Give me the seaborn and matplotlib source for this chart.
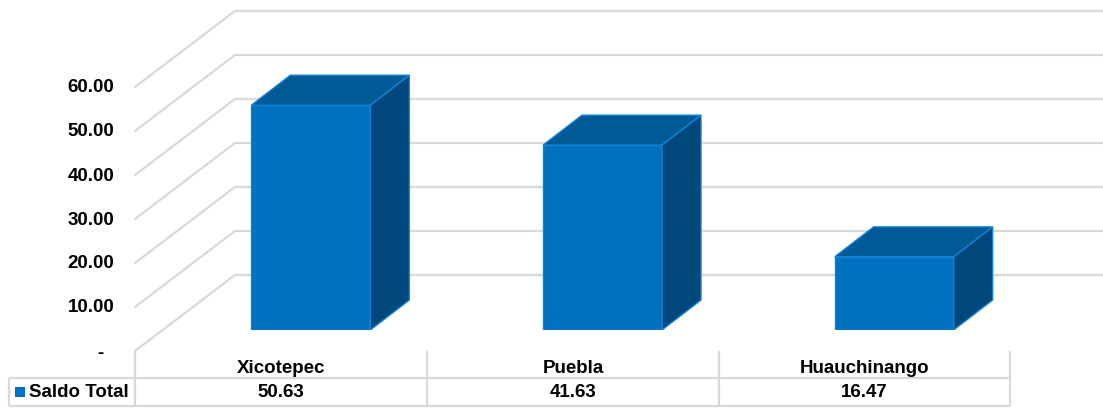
import matplotlib
matplotlib.use("Agg")
import matplotlib.pyplot as plt
from matplotlib.patches import Polygon, Rectangle
from matplotlib.transforms import ScaledTranslation
import seaborn as sns

# values
municipios = ["Xicotepec", "Puebla", "Huauchinango"]
saldo_total = [50.63, 41.63, 16.47]
saldo_labels = ["50.63", "41.63", "16.47"]
serie = "Saldo Total"
y_ticks = [0, 10, 20, 30, 40, 50, 60]
y_labels = ["-", "10.00", "20.00", "30.00", "40.00", "50.00", "60.00"]

W, H = 1103, 408
BLUE = "#0070C0"
TOP = "#005A96"
SIDE = "#00487C"
EDGE = "#1482D8"
GRID = "#D9D9D9"

sns.set_style("white")
plt.rcParams["font.family"] = ["Liberation Sans", "DejaVu Sans"]
plt.rcParams["font.weight"] = "bold"
plt.rcParams["font.size"] = 13.5


def px_axes(fig, left, top, right, bottom):
    return fig.add_axes([left / W, 1 - bottom / H, (right - left) / W, (bottom - top) / H])


fig = plt.figure(figsize=(W / 100, H / 100), dpi=100, facecolor="white")

# walls: x in pixels from the front left corner, y in chart units
ax_grid = px_axes(fig, 135, 87, 1010, 351)
ax_grid.set_xlim(0, 875)
ax_grid.set_ylim(0, 60)
depth_x = 100
depth_y = 76 / 4.4
for v in y_ticks:
    ax_grid.plot([0, depth_x, 875 + depth_x], [v, v + depth_y, v + depth_y],
                 color=GRID, lw=1.6, clip_on=False, solid_joinstyle="miter")
for s in ax_grid.spines.values():
    s.set_visible(False)
ax_grid.set_xticks([])
ax_grid.set_yticks(y_ticks)
ax_grid.set_yticklabels(y_labels)
ax_grid.tick_params(axis="y", length=0, pad=15, colors="black")
ax_grid.patch.set_visible(False)
labels = ax_grid.get_yticklabels()
for lab in labels[1:]:
    lab.set_transform(lab.get_transform() + ScaledTranslation(0, 1 / 100, fig.dpi_scale_trans))
labels[0].set_transform(labels[0].get_transform() + ScaledTranslation(-11 / 100, 0, fig.dpi_scale_trans))

# bars: 4.44 px per unit, standing on the floor at y=330
px_per_unit = 4.44
ax_bars = px_axes(fig, 165, 0, 1040, 330)
sns.barplot(x=municipios, y=saldo_total, color=BLUE, saturation=1, width=0.408,
            edgecolor=EDGE, linewidth=1, ax=ax_bars)
ax_bars.set_ylim(0, 330 / px_per_unit)
ax_bars.axis("off")
dx = 39 * 3 / 875
dy = 30 / px_per_unit
for bar in list(ax_bars.patches):
    x0, w, h = bar.get_x(), bar.get_width(), bar.get_height()
    x1 = x0 + w
    ax_bars.add_patch(Polygon([(x0, h), (x1, h), (x1 + dx, h + dy), (x0 + dx, h + dy)],
                              facecolor=TOP, edgecolor=EDGE, lw=1))
    ax_bars.add_patch(Polygon([(x1, 0), (x1 + dx, dy), (x1 + dx, h + dy), (x1, h)],
                              facecolor=SIDE, edgecolor=EDGE, lw=1))

# data table under the chart, in pixel coordinates
ax_tab = px_axes(fig, 0, 351, W, H)
ax_tab.set_xlim(0, W)
ax_tab.set_ylim(H, 351)
ax_tab.axis("off")
cols = [135, 427, 719, 1010]
ax_tab.vlines(cols, 351, 406, color=GRID, lw=1.6)
ax_tab.vlines(9, 378, 406, color=GRID, lw=1.6)
ax_tab.hlines([378, 406], 9, 1010, color=GRID, lw=1.6)
ax_tab.add_patch(Rectangle((15, 387), 10, 10, facecolor=BLUE, edgecolor="none"))
ax_tab.text(29, 392, serie, ha="left", va="center", color="black")
for i, name in enumerate(municipios):
    xc = (cols[i] + cols[i + 1]) / 2
    ax_tab.text(xc, 368, name, ha="center", va="center", color="black")
    ax_tab.text(xc, 392.5, saldo_labels[i], ha="center", va="center", color="black")

fig.savefig("out.png", dpi=100)
